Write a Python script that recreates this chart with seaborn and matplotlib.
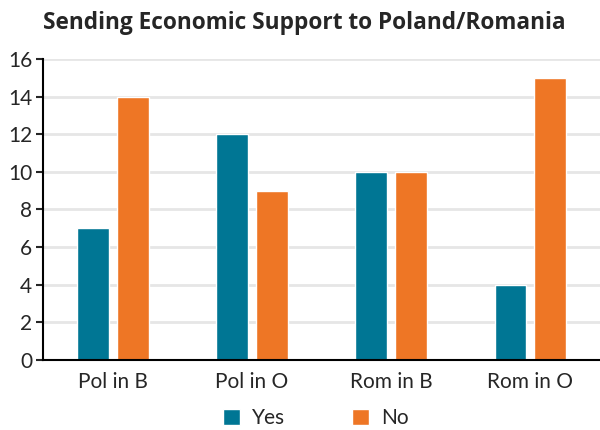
import pandas as pd
import matplotlib.pyplot as plt
import seaborn as sns

groups = ['Pol in B', 'Pol in O', 'Rom in B', 'Rom in O']
yes_vals = [7, 12, 10, 4]
no_vals = [14, 9, 10, 15]
series = ['Yes', 'No']
colors = ['#007694', '#EE7625']

df = pd.DataFrame({
    'group': groups * 2,
    'answer': ['Yes'] * len(groups) + ['No'] * len(groups),
    'count': yes_vals + no_vals,
})

sns.set_style('white')
plt.rcParams['font.family'] = ['Lato', 'DejaVu Sans']

fig = plt.figure(figsize=(6, 4.3), dpi=100)
ax = fig.add_axes([0.072, 0.163, 0.928, 0.7])

sns.barplot(data=df, x='group', y='count', hue='answer', hue_order=series,
            palette=colors, width=0.571, gap=0.2, saturation=1, ax=ax)

ax.set_ylim(0, 16)
ax.set_yticks(range(0, 17, 2))
ax.set_xlim(-0.5, 3.5)
ax.yaxis.grid(True, color='#e6e6e6', linewidth=2)
ax.set_axisbelow(True)
ax.set_xlabel('')
ax.set_ylabel('')
for s in ['top', 'right']:
    ax.spines[s].set_visible(False)
for s in ['left', 'bottom']:
    ax.spines[s].set_color('black')
    ax.spines[s].set_linewidth(1.5)
ax.tick_params(axis='y', left=True, length=5, width=1.5, labelsize=15, pad=3)
ax.tick_params(axis='x', bottom=False, labelsize=15, pad=5)

ax.legend(loc='upper center', bbox_to_anchor=(0.49, -0.118), ncol=2, frameon=False,
          fontsize=15, handlelength=0.8, handleheight=0.8, columnspacing=3.2,
          handletextpad=0.6, borderaxespad=0.2)

fig.suptitle('Sending Economic Support to Poland/Romania', fontsize=16.3,
             fontweight='bold', family=['Open Sans', 'DejaVu Sans'],
             x=0.508, y=0.975)

fig.savefig('out.png', dpi=100)
